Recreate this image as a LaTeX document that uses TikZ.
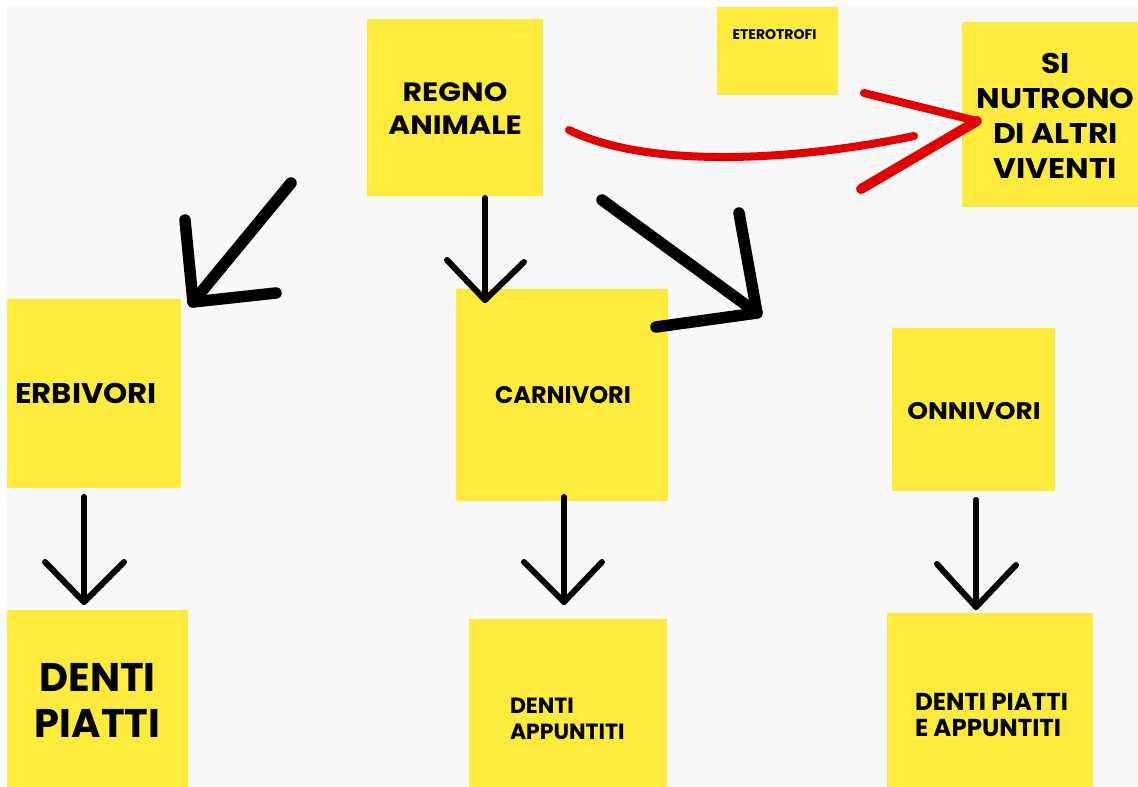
\documentclass[tikz,border=0pt]{standalone}
\usepackage{fontspec}
\setmainfont{Poppins}
\newfontfamily\stretchXL{Poppins}[FakeStretch=1.13]
\newfontfamily\stretchL{Poppins}[FakeStretch=1.10]
\newfontfamily\stretchM{Poppins}[FakeStretch=1.08]
\definecolor{bgGray}{HTML}{F8F8F8}
\definecolor{postit}{HTML}{FFEB3B}
\definecolor{penRed}{HTML}{E50000}
\begin{document}
\begin{tikzpicture}[x=1pt,y=-1pt,
  note/.style={fill=postit, draw=none, inner sep=0pt, outer sep=0pt},
  lbl/.style={inner sep=0pt, outer sep=0pt, align=center, text=black},
  pen/.style={draw=black, line width=6pt, line cap=round, line join=round},
  bigpen/.style={draw=black, line width=11.5pt, line cap=round, line join=round},
  redpen/.style={draw=penRed, line width=8pt, line cap=round, line join=round}]
\useasboundingbox (0,0) rectangle (1138,787);
\fill[white] (0,0) rectangle (1138,787);
\fill[bgGray] (7,7) rectangle (1138,787);

% post-it boxes
\node[note, minimum width=176pt, minimum height=177pt] (regno) at (455,107.5) {};
\node[note, minimum width=121pt, minimum height=88pt] (etero) at (777.5,51) {};
\node[note, minimum width=176pt, minimum height=185pt] (nutr) at (1050,114.5) {};
\node[note, minimum width=174pt, minimum height=189pt] (erbi) at (94,393.5) {};
\node[note, minimum width=212pt, minimum height=212pt] (carni) at (562,395) {};
\node[note, minimum width=163pt, minimum height=163pt] (onni) at (973.5,409.5) {};
\node[note, minimum width=181pt, minimum height=177pt] (dpiatti) at (97.5,698.5) {};
\node[note, minimum width=198pt, minimum height=168pt] (dapp) at (568,703) {};
\node[note, minimum width=206pt, minimum height=174pt] (dpa) at (990,700) {};

% labels
\node[lbl, anchor=north, font=\stretchXL\bfseries\fontsize{26.5}{33}\selectfont] (regnoT) at (455,83) {REGNO\\ANIMALE};
\node[lbl, anchor=base, font=\bfseries\fontsize{14}{16}\selectfont] (eteroT) at (774.5,39) {ETEROTROFI};
\node[lbl, anchor=north, font=\stretchL\bfseries\fontsize{28.5}{35}\selectfont] (nutrT) at (1055.5,53) {SI\\NUTRONO\\DI ALTRI\\VIVENTI};
\node[lbl, anchor=base, font=\stretchM\bfseries\fontsize{28.5}{33}\selectfont] (erbiT) at (86,403) {ERBIVORI};
\node[lbl, anchor=base, font=\bfseries\fontsize{24}{28}\selectfont] (carniT) at (563,403) {CARNIVORI};
\node[lbl, anchor=base, font=\stretchL\bfseries\fontsize{24}{28}\selectfont] (onniT) at (974,419) {ONNIVORI};
\node[lbl, anchor=north, font=\bfseries\fontsize{40}{46}\selectfont] (dpiattiT) at (97.5,663) {DENTI\\PIATTI};
\node[lbl, anchor=north west, align=left, font=\bfseries\fontsize{22}{26.5}\selectfont] (dappT) at (510,698) {DENTI\\APPUNTITI};
\node[lbl, anchor=north west, align=left, font=\bfseries\fontsize{24.5}{26}\selectfont] (dpaT) at (915,693) {DENTI PIATTI\\E APPUNTITI};

% arrow end points
\coordinate (a1) at (485,198); \coordinate (a2) at (485,300);
\coordinate (a3) at (447,260); \coordinate (a4) at (524,262);
\coordinate (b1) at (291,183); \coordinate (b2) at (193,302);
\coordinate (b3) at (185,220); \coordinate (b4) at (276,293);
\coordinate (c1) at (602,200); \coordinate (c2) at (757,313);
\coordinate (c3) at (739,213); \coordinate (c4) at (656,327);
\coordinate (d1) at (84,497); \coordinate (d2) at (84,602);
\coordinate (d3) at (45,562); \coordinate (d4) at (124,562);
\coordinate (e1) at (564,497); \coordinate (e2) at (564,602);
\coordinate (e3) at (524,562); \coordinate (e4) at (602,562);
\coordinate (f1) at (976,500); \coordinate (f2) at (976,607);
\coordinate (f3) at (937,564); \coordinate (f4) at (1016,565);
\coordinate (r1) at (569,130); \coordinate (r2) at (914,136);
\coordinate (r3) at (864,93); \coordinate (r4) at (977,121); \coordinate (r5) at (861,189);

% REGNO -> CARNIVORI
\draw[pen] (a1) -- (a2);
\draw[pen] (a3) -- (a2) -- (a4);
% REGNO -> ERBIVORI
\draw[bigpen] (b1) -- (b2);
\draw[bigpen] (b3) -- (b2) -- (b4);
% REGNO -> ONNIVORI direction
\draw[bigpen] (c1) -- (c2);
\draw[bigpen] (c3) -- (c2) -- (c4);
% lower arrows
\draw[pen] (d1) -- (d2);
\draw[pen] (d3) -- (d2) -- (d4);
\draw[pen] (e1) -- (e2);
\draw[pen] (e3) -- (e2) -- (e4);
\draw[pen] (f1) -- (f2);
\draw[pen] (f3) -- (f2) -- (f4);
% red arrow
\draw[redpen] (r1) .. controls (650,170) and (800,160) .. (r2);
\draw[redpen, line width=8pt] (r3) -- (r4);
\draw[redpen, line width=10pt] (r4) -- (r5);
\end{tikzpicture}
\end{document}
